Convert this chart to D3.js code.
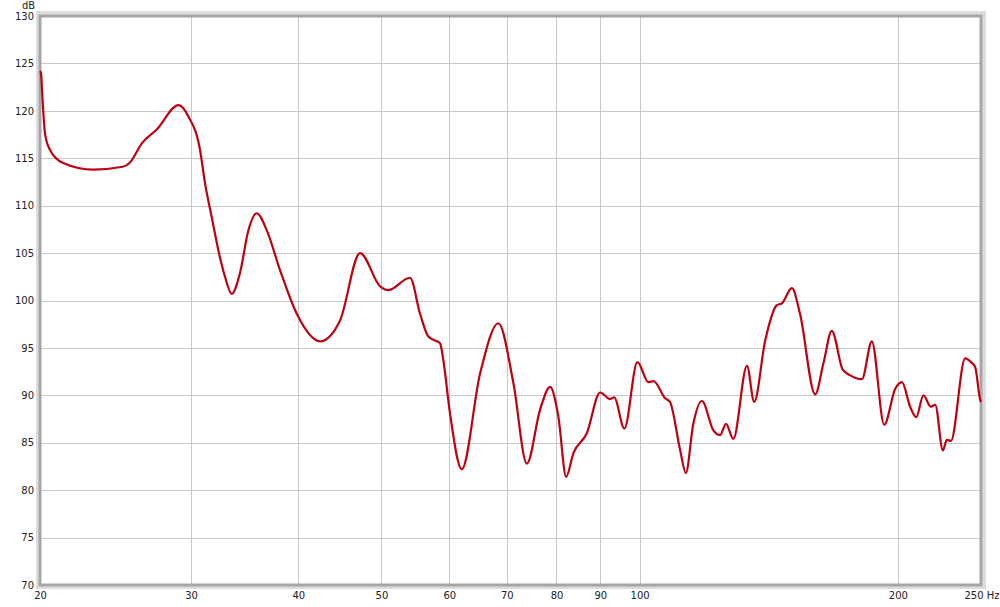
<!DOCTYPE html>
<html><head><meta charset="utf-8">
<script src="https://cdn.jsdelivr.net/npm/d3@7"></script>
<style>body{margin:0;background:#fff;} svg{display:block;font-family:"DejaVu Sans",Verdana,sans-serif;}</style>
</head><body>
<svg id="chart" width="1000" height="607"></svg>
<script>
const freqTicks = [20,30,40,50,60,70,80,90,100,200,250];
const freqTickLabels = ["20","30","40","50","60","70","80","90","100","200","250 Hz"];
const dbTicks = [70,75,80,85,90,95,100,105,110,115,120,125,130];
const freqs = [20.0,20.05,20.14,20.27,20.54,21.28,23.08,24.97,25.43,26.3,27.34,29.01,29.79,30.73,31.14,31.71,32.28,32.86,33.46,34.21,34.99,35.78,36.76,38.09,39.84,42.41,44.75,47.22,49.83,50.95,54.0,55.47,56.72,58.02,58.53,59.05,60.13,62.04,65.17,68.45,71.26,73.88,76.56,78.64,80.42,82.1,83.72,86.78,89.94,92.38,93.38,96.0,99.4,102.4,103.8,107.1,108.5,111.5,113.2,115.5,118.2,121.9,124.1,126.1,128.6,133.4,136.0,140.1,144.5,146.5,150.5,153.8,160.2,163.8,167.5,172.5,176.0,181.6,186.5,192.8,198.6,202.2,206.7,210.1,214.2,218.5,221.1,225.7,228.1,230.6,239.6,244.0,246.1,249.5,250];
const spl = [124.2,124.0,121.1,117.6,115.9,114.5,113.8,114.1,114.5,116.6,118.0,120.6,119.4,115.9,112.4,108.8,105.3,102.5,100.7,102.9,107.4,109.2,107.4,103.2,98.6,95.7,97.9,105.0,101.5,101.1,102.4,98.6,96.2,95.7,95.5,93.7,88.0,82.2,92.3,97.6,91.3,82.8,88.5,90.9,87.7,81.4,83.9,86.0,90.3,89.6,89.8,86.5,93.5,91.4,91.5,89.7,89.3,84.2,81.8,87.0,89.4,86.3,85.8,87.0,85.4,93.1,89.3,95.8,99.5,99.7,101.3,98.6,90.1,93.4,96.8,92.7,92.1,91.7,95.7,86.9,90.7,91.4,88.8,87.7,90.0,88.8,89.0,84.2,85.3,85.2,93.9,93.4,93.0,89.5,89.3];

const svg = d3.select("#chart");
const L = 40, R = 981, T = 16, B = 585;
const x = d3.scaleLog().domain([20,250]).range([L,R]);
const y = d3.scaleLinear().domain([70,130]).range([B,T]);
const font = "DejaVu Sans, Verdana, sans-serif";

// shadow frame
svg.append("rect").attr("x",L-1).attr("y",T-2).attr("width",R-L+3).attr("height",B-T+3)
  .attr("fill","none").attr("stroke","#dcdcdc").attr("stroke-width",6);
svg.append("rect").attr("x",L).attr("y",T).attr("width",R-L).attr("height",B-T).attr("fill","#fff");

// grid
svg.append("g").selectAll("line").data(dbTicks.slice(1,-1)).join("line")
  .attr("x1",L).attr("x2",R).attr("y1",d=>Math.round(y(d))+0.5).attr("y2",d=>Math.round(y(d))+0.5)
  .attr("stroke","#c8c8c8").attr("stroke-width",1);
svg.append("g").selectAll("line").data(freqTicks.slice(1,-1)).join("line")
  .attr("y1",T).attr("y2",B).attr("x1",d=>Math.round(x(d))+0.5).attr("x2",d=>Math.round(x(d))+0.5)
  .attr("stroke","#c8c8c8").attr("stroke-width",1);

// frame
svg.append("rect").attr("x",L).attr("y",T).attr("width",R-L).attr("height",B-T)
  .attr("fill","none").attr("stroke","#a6a6a6").attr("stroke-width",3);

// axes labels
const yAxis = d3.axisLeft(y).tickValues(dbTicks).tickSize(0).tickPadding(6);
const gy = svg.append("g").attr("transform",`translate(${L},0)`).call(yAxis);
gy.select(".domain").remove();
gy.selectAll("text").attr("font-size",10).attr("fill","#222").attr("font-family",font);

const xAxis = d3.axisBottom(x).tickValues(freqTicks).tickFormat((d,i)=>freqTickLabels[i]).tickSize(0).tickPadding(7);
const gx = svg.append("g").attr("transform",`translate(0,${B})`).call(xAxis);
gx.select(".domain").remove();
gx.selectAll("text").attr("font-size",10).attr("fill","#222").attr("font-family",font);
gx.selectAll(".tick").filter(d=>d===250).select("text").attr("text-anchor","start").attr("dx",-17);

svg.append("text").attr("x",22).attr("y",9).attr("font-size",10).attr("fill","#222").attr("font-family",font).text("dB");

// curve
const line = d3.line().x((d,i)=>x(freqs[i])).y(d=>y(d)).curve(d3.curveMonotoneX);
svg.append("path").datum(spl).attr("d",line).attr("fill","none")
  .attr("stroke","#c00010").attr("stroke-width",2.2).attr("stroke-linejoin","round");
</script>
</body></html>
